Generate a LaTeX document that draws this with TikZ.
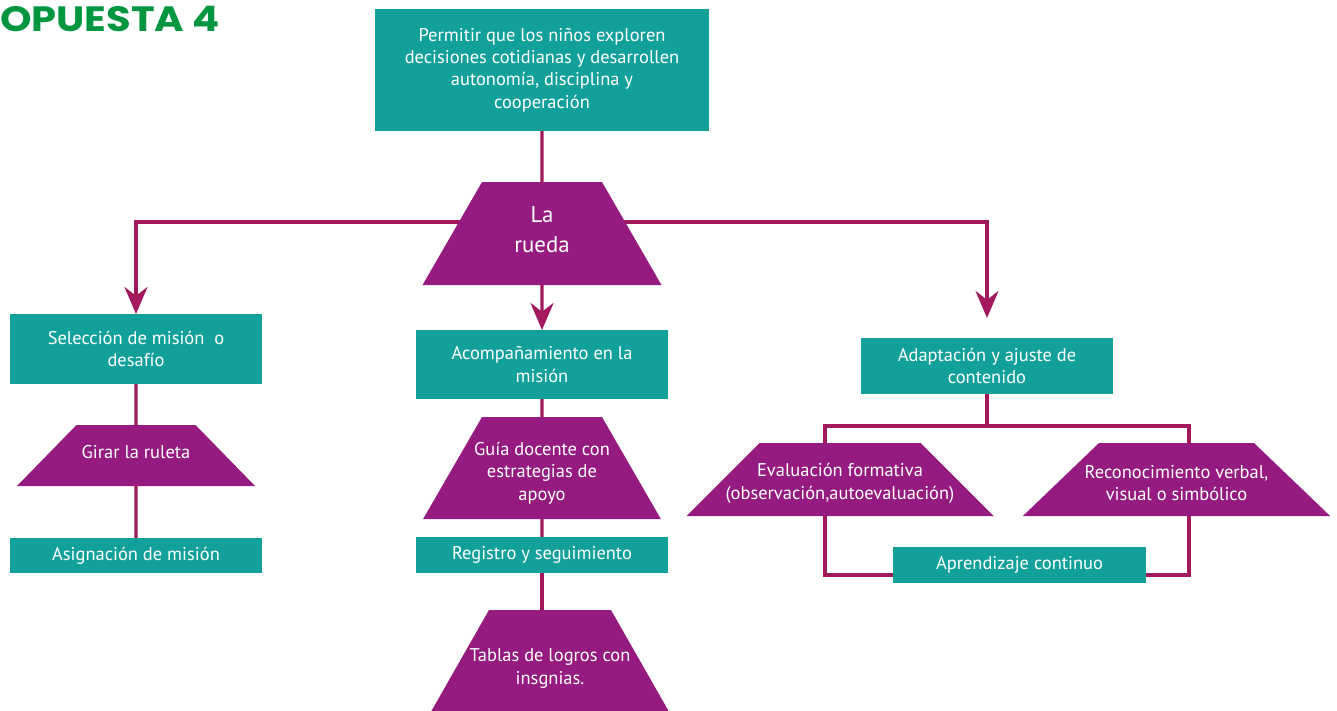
\documentclass[tikz,border=0pt]{standalone}
\usepackage{fontspec}
\setmainfont{PT Sans}
\newfontfamily\titlefont{Poppins}
\usetikzlibrary{arrows.meta, positioning, shapes.geometric, calc, backgrounds}
\definecolor{rdteal}{HTML}{12A19A}
\definecolor{rdpurple}{HTML}{951B81}
\definecolor{rdline}{HTML}{A21A5D}
\definecolor{rdgreen}{HTML}{009640}

\begin{document}
\begin{tikzpicture}[
  every node/.style={font=\fontsize{10.5}{12.8}\selectfont, text=white, align=center, inner sep=0pt, outer sep=0pt},
  tbox/.style={rectangle, fill=rdteal, minimum width=5.04cm, minimum height=#1},
  trap/.style={trapezium, fill=rdpurple, trapezium angle=#1, text depth=0pt},
  link/.style={rdline, line width=1.9pt},
  arr/.style={link, -{Stealth[length=0.54cm, width=0.46cm]}},
]
\useasboundingbox (0,0) rectangle (26.74,-14.2);
\clip (0,0) rectangle (26.74,-14.2);

% Title
\node[anchor=base west, text=rdgreen, font=\titlefont\bfseries\fontsize{20}{20}\selectfont] (title) at (0,-0.62) {\scalebox{1.14}[1]{OPUESTA 4}};

% Goal and wheel
\node[tbox=2.44cm, minimum width=6.68cm] (goal) at (10.84,-1.40) {Permitir que los niños exploren\\decisiones cotidianas y desarrollen\\autonomía, disciplina y\\cooperación};
\node[trap=60, text width=2.40cm, text height=2.06cm] (rueda) at (10.84,-4.67) {};
\node[font=\fontsize{13}{17}\selectfont] (ruedatxt) at ([yshift=0.07cm]rueda.center) {La\\rueda};

% Left branch
\node[tbox=1.40cm] (selec) at (2.72,-6.98) {Selección de misión~~o\\desafío};
\node[trap=45.7, text width=2.38cm, text height=1.22cm] (girar) at (2.72,-9.11) {};
\node (girartxt) at ([yshift=0.07cm]girar.center) {Girar la ruleta};
\node[tbox=0.70cm] (asign) at (2.72,-11.11) {Asignación de misión};

% Middle branch
\node[tbox=1.38cm] (acomp) at (10.84,-7.29) {Acompañamiento en la\\misión};
\node[trap=60, text width=2.40cm, text height=2.04cm] (guia) at (10.84,-9.36) {};
\node (guiatxt) at ([yshift=-0.10cm]guia.center) {Guía docente con\\estrategias de\\apoyo};
\node[tbox=0.72cm] (regis) at (10.84,-11.10) {Registro y seguimiento};
\node[trap=60.3, text width=2.44cm, text height=2.34cm] (tablas) at (11.00,-13.37) {};
\node (tablastxt) at (tablas.center) {Tablas de logros con\\insgnias.};

% Right branch
\node[tbox=1.12cm] (adapt) at (19.74,-7.32) {Adaptación y ajuste de\\contenido};
\node[trap=45, text width=3.22cm, text height=1.46cm] (evalf) at (16.80,-9.59) {};
\node (evalftxt) at ([yshift=-0.08cm]evalf.center) {Evaluación formativa\\(observación,autoevaluación)};
\node[trap=43.8, text width=3.10cm, text height=1.46cm] (recon) at (23.53,-9.59) {};
\node (recontxt) at ([yshift=-0.07cm]recon.center) {Reconocimiento verbal,\\visual o simbólico};
\node[tbox=0.72cm, minimum width=5.06cm] (aprend) at (20.39,-11.30) {Aprendizaje continuo};

% Connections
\begin{scope}[on background layer]
\draw[link] (goal) -- (rueda);
\draw[arr] ([yshift=0.23cm]rueda.center) -| (selec.north);
\draw[arr] (rueda) -- (acomp);
\coordinate (adtip) at ([yshift=0.40cm]adapt.north);
\draw[arr] ([yshift=0.23cm]rueda.center) -| (adtip);

\draw[link] (selec) -- (girar);
\draw[link] (girar) -- (asign);

\draw[link] (acomp) -- (guia);
\draw[link] (guia) -- (regis);
\draw[link] (regis.south) -- (regis.south |- tablas.north);

\draw[link] (adapt.south) -- ++(0,-0.64) coordinate (split);
\draw[link] (split) -| ([xshift=-0.30cm]evalf.north);
\draw[link] (split) -| ([xshift=0.25cm]recon.north);
\draw[link] ([xshift=-0.30cm]evalf.south) |- ([yshift=-0.20cm]aprend.west);
\draw[link] ([xshift=0.25cm]recon.south) |- ([yshift=-0.20cm]aprend.east);
\end{scope}

\end{tikzpicture}
\end{document}
